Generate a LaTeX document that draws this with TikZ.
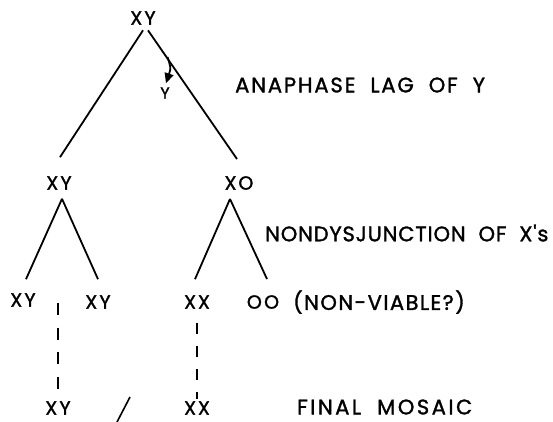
\documentclass[tikz,border=0pt]{standalone}
\usepackage{fontspec}
\setmainfont{Poppins}[LetterSpace=12,FakeBold=1.5]
\newfontfamily\spacedA{Poppins}[LetterSpace=12,WordSpace=2,FakeBold=1.5]
\newfontfamily\spacedC{Poppins}[LetterSpace=9,WordSpace=2,FakeBold=1.5]
\newfontfamily\spacedB{Poppins}[LetterSpace=4,WordSpace=2,FakeBold=1.5]
\newfontfamily\spacedD{Poppins}[LetterSpace=7,WordSpace=2,FakeBold=1.5]
\usetikzlibrary{arrows.meta}
\tikzset{
  lab/.style={inner sep=0pt, font=\fontsize{19}{19}\selectfont},
  bigtext/.style={inner sep=0pt, anchor=west},
  small/.style={inner sep=0pt, font=\fontsize{16}{16}\selectfont},
  branch/.style={line width=1.8pt},
  lineage/.style={line width=2pt, dash pattern=on 12pt off 12.5pt},
}
\begin{document}
\begin{tikzpicture}[x=1pt,y=-1pt]
\useasboundingbox (0,0) rectangle (553,421);
% nodes
\node[lab] (top) at (143,18) {XY};
\node[lab] (xyL) at (59,183) {XY};
\node[lab] (xo) at (239,183) {X\kern2pt O};
\node[lab] (a1) at (23,300) {XY};
\node[lab] (a2) at (98,302) {XY};
\node[lab] (b1) at (197,302) {X\kern2pt X};
\node[lab] (b2) at (263,302) {OO};
\node[lab] (fxy) at (58,408) {XY};
\node[lab] (fxx) at (197,408) {X\kern2pt X};
\node[small] (ylag) at (165,93) {Y};
\node[bigtext, font=\spacedC\fontsize{21}{21}\selectfont] (t1) at (235,85) {ANAPHASE LAG OF Y};
\node[bigtext, font=\spacedB\fontsize{21}{21}\selectfont] (t2) at (265,233) {NONDYSJUNCTION OF X's};
\node[bigtext, font=\spacedD\fontsize{21}{21}\selectfont] (t3) at (293,302) {(NON-VIABLE?)};
\node[bigtext, font=\spacedA\fontsize{21}{21}\selectfont] (t4) at (297,407) {FINAL MOSAIC};
% first division
\draw[branch] ([shift={(0,5.5)}]top.south) -- ([shift={(1,-19)}]xyL.north);
\draw[branch] ([shift={(5,5.5)}]top.south) -- ([shift={(-2,-17)}]xo.north);
% anaphase lag arrow
\coordinate (ast) at (167.5,57);
\draw[line width=1.8pt, -{Triangle[length=10pt,width=9pt]}] (ast) .. controls (171,68) .. ([shift={(1,-4)}]ylag.north);
% second divisions
\draw[branch] ([shift={(3,9)}]xyL.south) -- ([shift={(3,-14)}]a1.north);
\draw[branch] ([shift={(3,9)}]xyL.south) -- ([shift={(0,-16)}]a2.north);
\draw[branch] ([shift={(-9,9)}]xo.south) -- ([shift={(-2,-16)}]b1.north);
\draw[branch] ([shift={(-9,9)}]xo.south) -- ([shift={(4,-16)}]b2.north);
% lineages
\coordinate (dtop) at (58,303);
\draw[lineage] (dtop) -- ([shift={(0,-3)}]fxy.north);
\draw[lineage, dash pattern=on 11pt off 12pt] ([shift={(0,14)}]b1.south) -- ([shift={(0,-2)}]fxx.north);
% stray mark
\draw[line width=1.6pt] (130,397) -- (117,422);
\end{tikzpicture}
\end{document}
